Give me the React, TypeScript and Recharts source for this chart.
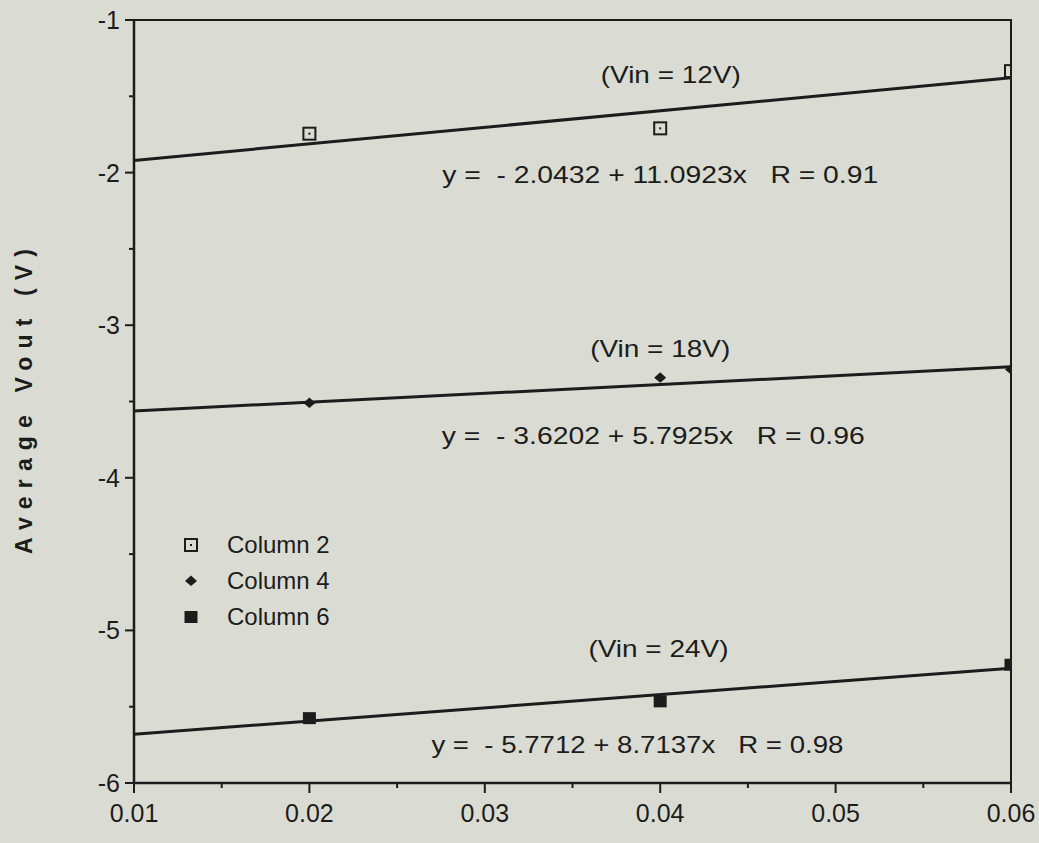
import {
  ComposedChart,
  Line,
  Scatter,
  XAxis,
  YAxis,
  ReferenceArea,
  ReferenceDot,
} from "recharts";

// ── data ────────────────────────────────────────────────────────────────
const xValues = [0.02, 0.04, 0.06];
const col2 = [-1.745, -1.71, -1.335]; // Vin = 12V
const col4 = [-3.51, -3.345, -3.29]; // Vin = 18V
const col6 = [-5.575, -5.465, -5.225]; // Vin = 24V

// fitted lines, end points at x = 0.01 and x = 0.06
const fitX = [0.01, 0.06];
const fit12 = [-1.92, -1.378];
const fit18 = [-3.562, -3.273];
const fit24 = [-5.68, -5.248];

const xTicks = [0.01, 0.015, 0.02, 0.025, 0.03, 0.035, 0.04, 0.045, 0.05, 0.055, 0.06];
const yTicks = [-6, -5.5, -5, -4.5, -4, -3.5, -3, -2.5, -2, -1.5, -1];

const annotations = [
  { text: "(Vin = 12V)", x: 0.0406, y: -1.355, w: 140 },
  { text: "y =  - 2.0432 + 11.0923x   R = 0.91", x: 0.0400, y: -2.01, w: 436 },
  { text: "(Vin = 18V)", x: 0.0400, y: -3.15, w: 140 },
  { text: "y =  - 3.6202 + 5.7925x   R = 0.96", x: 0.0396, y: -3.72, w: 423 },
  { text: "(Vin = 24V)", x: 0.0399, y: -5.12, w: 140 },
  { text: "y =  - 5.7712 + 8.7137x   R = 0.98", x: 0.0387, y: -5.75, w: 412 },
];

const toPoints = (ys: number[]) => xValues.map((x, i) => ({ x, y: ys[i] }));
const toFit = (ys: number[]) => fitX.map((x, i) => ({ x, y: ys[i] }));

const BG = "#dadcd3";
const INK = "#1c1c1c";
const FONT = "'Liberation Sans', Arial, sans-serif";

// ── markers ────────────────────────────────────────────────────────────
function OpenSquare({ cx, cy }: any) {
  return (
    <g>
      <rect x={cx - 6} y={cy - 6} width={12} height={12} fill="none" stroke={INK} strokeWidth={2} />
      <rect x={cx - 1} y={cy - 1} width={2} height={2} fill={INK} />
    </g>
  );
}
function Diamond({ cx, cy }: any) {
  return <path d={`M${cx},${cy - 5.5} L${cx + 6},${cy} L${cx},${cy + 5} L${cx - 6},${cy} Z`} fill={INK} />;
}
function FilledSquare({ cx, cy }: any) {
  return <rect x={cx - 6.5} y={cy - 6} width={13} height={12} fill={INK} />;
}

const series = [
  { name: "Column 2", data: toPoints(col2), Marker: OpenSquare },
  { name: "Column 4", data: toPoints(col4), Marker: Diamond },
  { name: "Column 6", data: toPoints(col6), Marker: FilledSquare },
];

// ── ticks ──────────────────────────────────────────────────────────────
const isMajor = (v: number, step: number) => Math.abs(v / step - Math.round(v / step)) < 1e-6;

function YTick({ x, y, payload }: any) {
  const major = isMajor(payload.value, 1);
  return (
    <g>
      <line x1={x} x2={x - (major ? 9 : 5)} y1={y} y2={y} stroke={INK} strokeWidth={2} />
      {major && (
        <text x={x - 14} y={y} textAnchor="end" dominantBaseline="central" fontSize={25} fill={INK} fontFamily={FONT}>
          {payload.value.toFixed(0)}
        </text>
      )}
    </g>
  );
}

function XTick({ x, y, payload }: any) {
  const major = isMajor(payload.value, 0.01);
  return (
    <g>
      <line x1={x} x2={x} y1={y} y2={y + (major ? 10 : 5)} stroke={INK} strokeWidth={2} />
      {major && (
        <text x={x} y={y + 39} textAnchor="middle" fontSize={25} fill={INK} fontFamily={FONT}>
          {payload.value.toFixed(2)}
        </text>
      )}
    </g>
  );
}

function AnnotationLabel({ viewBox, text, w }: any) {
  const cx = viewBox.x + viewBox.width / 2;
  const cy = viewBox.y + viewBox.height / 2;
  return (
    <text
      x={cx}
      y={cy}
      textAnchor="middle"
      dominantBaseline="central"
      fontSize={24}
      fill={INK}
      fontFamily={FONT}
      textLength={w}
      lengthAdjust="spacingAndGlyphs"
      style={{ whiteSpace: "pre" }}
    >
      {text}
    </text>
  );
}

function YLabel({ viewBox }: any) {
  const x = 24;
  const y = viewBox.y + viewBox.height / 2;
  return (
    <text
      x={x}
      y={y}
      transform={`rotate(-90 ${x} ${y})`}
      textAnchor="middle"
      dominantBaseline="central"
      fontSize={23}
      fontWeight={900}
      fill={INK}
      fontFamily={FONT}
      textLength={305}
      lengthAdjust="spacing"
    >
      Average Vout (V)
    </text>
  );
}

function LegendBox() {
  return (
    <div style={{ position: "absolute", left: 180, top: 527, fontFamily: FONT, fontSize: 24, color: INK }}>
      {series.map(({ name, Marker }) => (
        <div key={name} style={{ display: "flex", alignItems: "center", height: 36 }}>
          <svg width={30} height={20} style={{ marginRight: 17 }}>
            <Marker cx={11} cy={10} />
          </svg>
          <span>{name}</span>
        </div>
      ))}
    </div>
  );
}

export default function App() {
  return (
    <div style={{ position: "absolute", left: 0, top: 0, width: 1039, height: 843, background: BG }}>
      <ComposedChart width={1039} height={843} margin={{ top: 20, right: 28, bottom: 10, left: 0 }}>
        <XAxis
          type="number"
          dataKey="x"
          domain={[0.01, 0.06]}
          ticks={xTicks}
          allowDataOverflow
          height={50}
          axisLine={{ stroke: INK, strokeWidth: 2.5 }}
          tickLine={false}
          tickSize={0}
          tickMargin={0}
          tick={<XTick />}
          interval={0}
        />
        <YAxis
          type="number"
          dataKey="y"
          domain={[-6, -1]}
          ticks={yTicks}
          allowDataOverflow
          width={134}
          axisLine={{ stroke: INK, strokeWidth: 2.5 }}
          tickLine={false}
          tickSize={0}
          tickMargin={0}
          tick={<YTick />}
          interval={0}
          label={{ content: <YLabel /> }}
        />
        <ReferenceArea x1={0.01} x2={0.06} y1={-6} y2={-1} fill="none" stroke={INK} strokeWidth={2} />

        <Line data={toFit(fit12)} dataKey="y" type="linear" stroke={INK} strokeWidth={3} dot={false} isAnimationActive={false} />
        <Line data={toFit(fit18)} dataKey="y" type="linear" stroke={INK} strokeWidth={3} dot={false} isAnimationActive={false} />
        <Line data={toFit(fit24)} dataKey="y" type="linear" stroke={INK} strokeWidth={3} dot={false} isAnimationActive={false} />

        {series.map(({ name, data, Marker }) => (
          <Scatter key={name} name={name} data={data} shape={<Marker />} isAnimationActive={false} />
        ))}

        {annotations.map((a) => (
          <ReferenceDot
            key={a.text}
            x={a.x}
            y={a.y}
            r={1}
            fill="none"
            stroke="none"
            label={{ content: <AnnotationLabel text={a.text} w={a.w} /> }}
          />
        ))}
      </ComposedChart>
      <LegendBox />
    </div>
  );
}
